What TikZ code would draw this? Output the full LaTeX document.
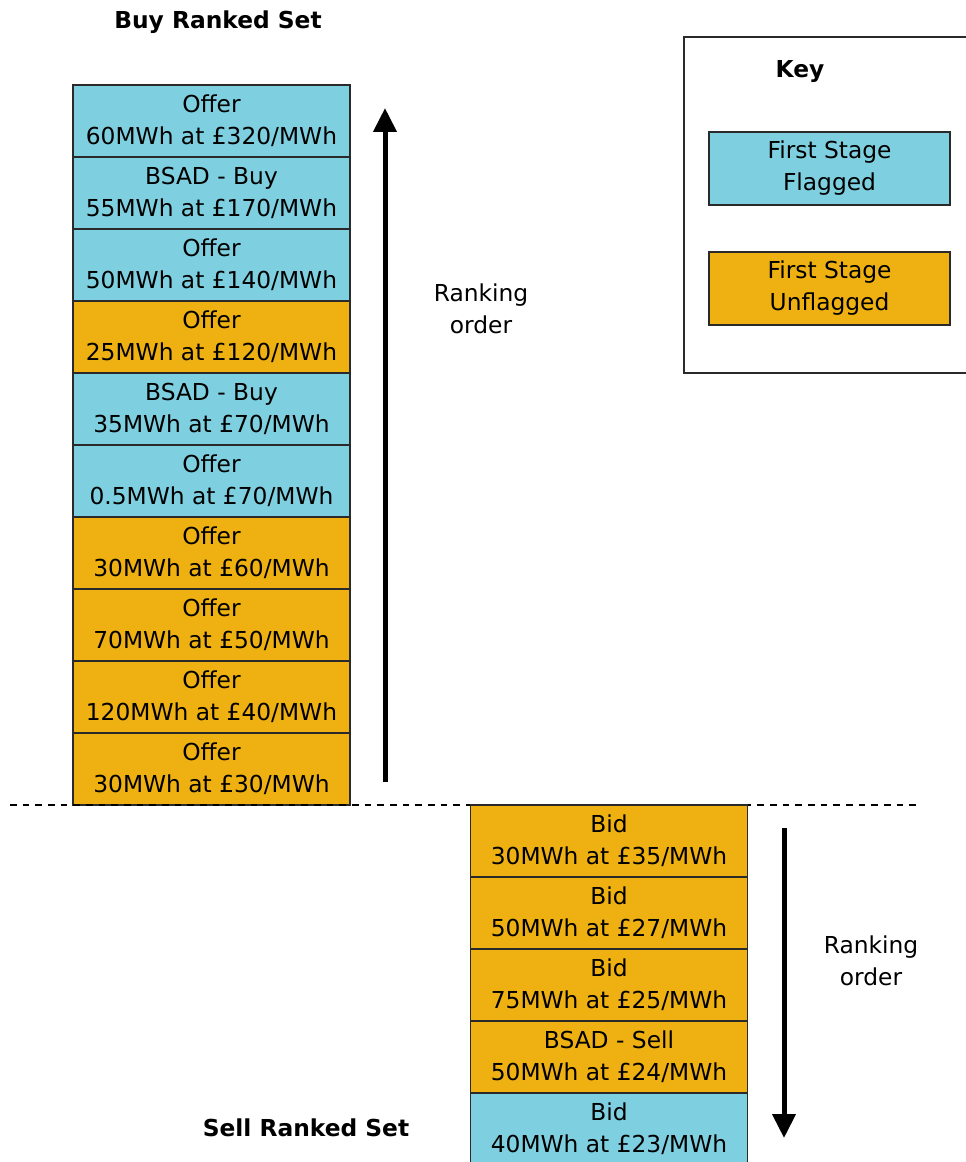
\documentclass[tikz,border=0pt]{standalone}
\usepackage{fontspec}
\setmainfont{DejaVu Sans}
\usepackage{tikz}
\usetikzlibrary{arrows.meta, positioning}
\usepackage{xcolor}
\definecolor{FlagCyan}{HTML}{7ED0E0}
\definecolor{UnflagGold}{HTML}{EEB111}
\definecolor{EdgeGrey}{HTML}{2A2A2A}
\tikzset{
    % Box styles - ranked set entries
    flagged/.style={
        rectangle,
        draw=EdgeGrey,
        fill=FlagCyan,
        line width=1pt,
        minimum width=207.75pt,
        minimum height=54pt,
        inner sep=0pt,
        align=center,
        font=\fontsize{17.5}{24}\selectfont
    },
    unflagged/.style={
        flagged,
        fill=UnflagGold
    },
    keyentry/.style={
        rectangle,
        draw=EdgeGrey,
        line width=1pt,
        minimum width=180.75pt,
        minimum height=54.75pt,
        inner sep=0pt,
        align=center,
        font=\fontsize{17.5}{24}\selectfont
    },
    title/.style={
        font=\fontsize{17.5}{24}\selectfont\bfseries
    },
    label/.style={
        align=center,
        font=\fontsize{17.5}{24}\selectfont
    },
    % Arrow styles
    rankarrow/.style={
        -{Triangle[length=18pt, width=17pt]},
        line width=3.75pt,
        draw=black
    },
    splitline/.style={
        line width=1pt,
        draw=black,
        dash pattern=on 5pt off 4.5pt
    }
}
\begin{document}
\begin{tikzpicture}[x=0.75pt, y=-0.75pt]
    \useasboundingbox (0,0) rectangle (965,1162);

    % Buy ranked set
    \node[title] (buytitle) at (218,22) {Buy Ranked Set};
    \node[flagged]   (buy1)  at (211.5,121) {Offer\\60MWh at £320/MWh};
    \node[flagged]   (buy2)  at (211.5,193) {BSAD - Buy\\55MWh at £170/MWh};
    \node[flagged]   (buy3)  at (211.5,265) {Offer\\50MWh at £140/MWh};
    \node[unflagged] (buy4)  at (211.5,337) {Offer\\25MWh at £120/MWh};
    \node[flagged]   (buy5)  at (211.5,409) {BSAD - Buy\\35MWh at £70/MWh};
    \node[flagged]   (buy6)  at (211.5,481) {Offer\\0.5MWh at £70/MWh};
    \node[unflagged] (buy7)  at (211.5,553) {Offer\\30MWh at £60/MWh};
    \node[unflagged] (buy8)  at (211.5,625) {Offer\\70MWh at £50/MWh};
    \node[unflagged] (buy9)  at (211.5,697) {Offer\\120MWh at £40/MWh};
    \node[unflagged] (buy10) at (211.5,769) {Offer\\30MWh at £30/MWh};

    % Buy ranking arrow
    \coordinate (buytail) at (385,782);
    \coordinate (buyhead) at (385,108);
    \draw[rankarrow] (buytail) -- (buyhead);
    \node[label] (buyorder) at (481,309) {Ranking\\order};

    % Split between sets
    \coordinate (splitL) at (10,805);
    \coordinate (splitR) at (917,805);
    \draw[splitline] (splitL) -- (splitR);

    % Sell ranked set
    \node[unflagged] (sell1) at (609,841)  {Bid\\30MWh at £35/MWh};
    \node[unflagged] (sell2) at (609,913)  {Bid\\50MWh at £27/MWh};
    \node[unflagged] (sell3) at (609,985)  {Bid\\75MWh at £25/MWh};
    \node[unflagged] (sell4) at (609,1057) {BSAD - Sell\\50MWh at £24/MWh};
    \node[flagged]   (sell5) at (609,1129) {Bid\\40MWh at £23/MWh};
    \node[title] (selltitle) at (306,1128) {Sell Ranked Set};

    % Sell ranking arrow
    \coordinate (selltail) at (784,828);
    \coordinate (sellhead) at (784,1138);
    \draw[rankarrow] (selltail) -- (sellhead);
    \node[label] (sellorder) at (871,961) {Ranking\\order};

    % Key
    \draw[line width=1pt, draw=EdgeGrey] (684,37) rectangle (980,373);
    \node[title] (keytitle) at (800,72) {Key};
    \node[keyentry, fill=FlagCyan]   (keyflag)   at (829.5,168.5) {First Stage\\Flagged};
    \node[keyentry, fill=UnflagGold] (keyunflag) at (829.5,288.5) {First Stage\\Unflagged};
\end{tikzpicture}
\end{document}
